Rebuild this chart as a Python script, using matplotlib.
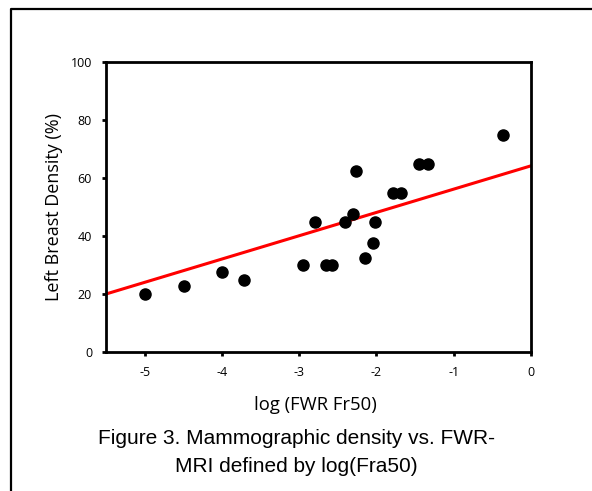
import matplotlib.pyplot as plt
from matplotlib.lines import Line2D

# log(FWR Fr50) vs left breast density
log_fr50 = [-4.99, -4.49, -4.00, -3.72, -2.95, -2.65, -2.58, -2.80, -2.41, -2.30,
            -2.27, -2.02, -2.05, -2.15, -1.78, -1.68, -1.45, -1.33, -0.36]
density = [20.0, 22.6, 27.5, 25.0, 30.0, 30.0, 30.0, 45.0, 45.0, 47.5,
           62.5, 45.0, 37.5, 32.5, 55.0, 55.0, 65.0, 65.0, 75.0]

# fitted regression line end points
fit_x = [-5.5, 0.0]
fit_y = [20.0, 64.2]

x_ticks = [-5, -4, -3, -2, -1, 0]
y_ticks = [0, 20, 40, 60, 80, 100]

fig = plt.figure(figsize=(5.92, 4.91), dpi=100)
ax = fig.add_axes([106 / 592, 1 - 352 / 491, 425 / 592, 290 / 491])

ax.plot(fit_x, fit_y, color="#ff0000", linewidth=2.2, zorder=2)
ax.plot(log_fr50, density, "o", color="black", markersize=8, zorder=3)

ax.set_xlim(-5.5, 0)
ax.set_ylim(0, 100)
ax.set_xticks(x_ticks)
ax.set_yticks(y_ticks)
ax.set_xticklabels([str(t) for t in x_ticks], fontsize=9, family="Open Sans")
ax.set_yticklabels([str(t) for t in y_ticks], fontsize=9, family="Open Sans")
ax.tick_params(direction="out", length=3, width=2, pad=7)
for s in ax.spines.values():
    s.set_linewidth(2)

# axis titles placed in figure coords
fig.text(54 / 592, 1 - 207 / 491, "Left Breast Density (%)", rotation=90,
         ha="center", va="center", fontsize=13, family="Open Sans")
fig.text(315 / 592, 1 - 405 / 491, "log (FWR Fr50)", ha="center", va="center",
         fontsize=13.3, family="Open Sans")

fig.text(0.5, 1 - 439 / 491, "Figure 3. Mammographic density vs. FWR-", ha="center",
         va="center", fontsize=15, family="Liberation Sans")
fig.text(0.5, 1 - 466 / 491, "MRI defined by log(Fra50)", ha="center",
         va="center", fontsize=15, family="Liberation Sans")

# frame around the figure (left and top edges only)
bx = 11 / 592
by = 1 - 9 / 491
fig.add_artist(Line2D([bx, bx, 1], [0, by, by], color="black", linewidth=1.6,
                      transform=fig.transFigure))

fig.savefig("out.png", dpi=100)
